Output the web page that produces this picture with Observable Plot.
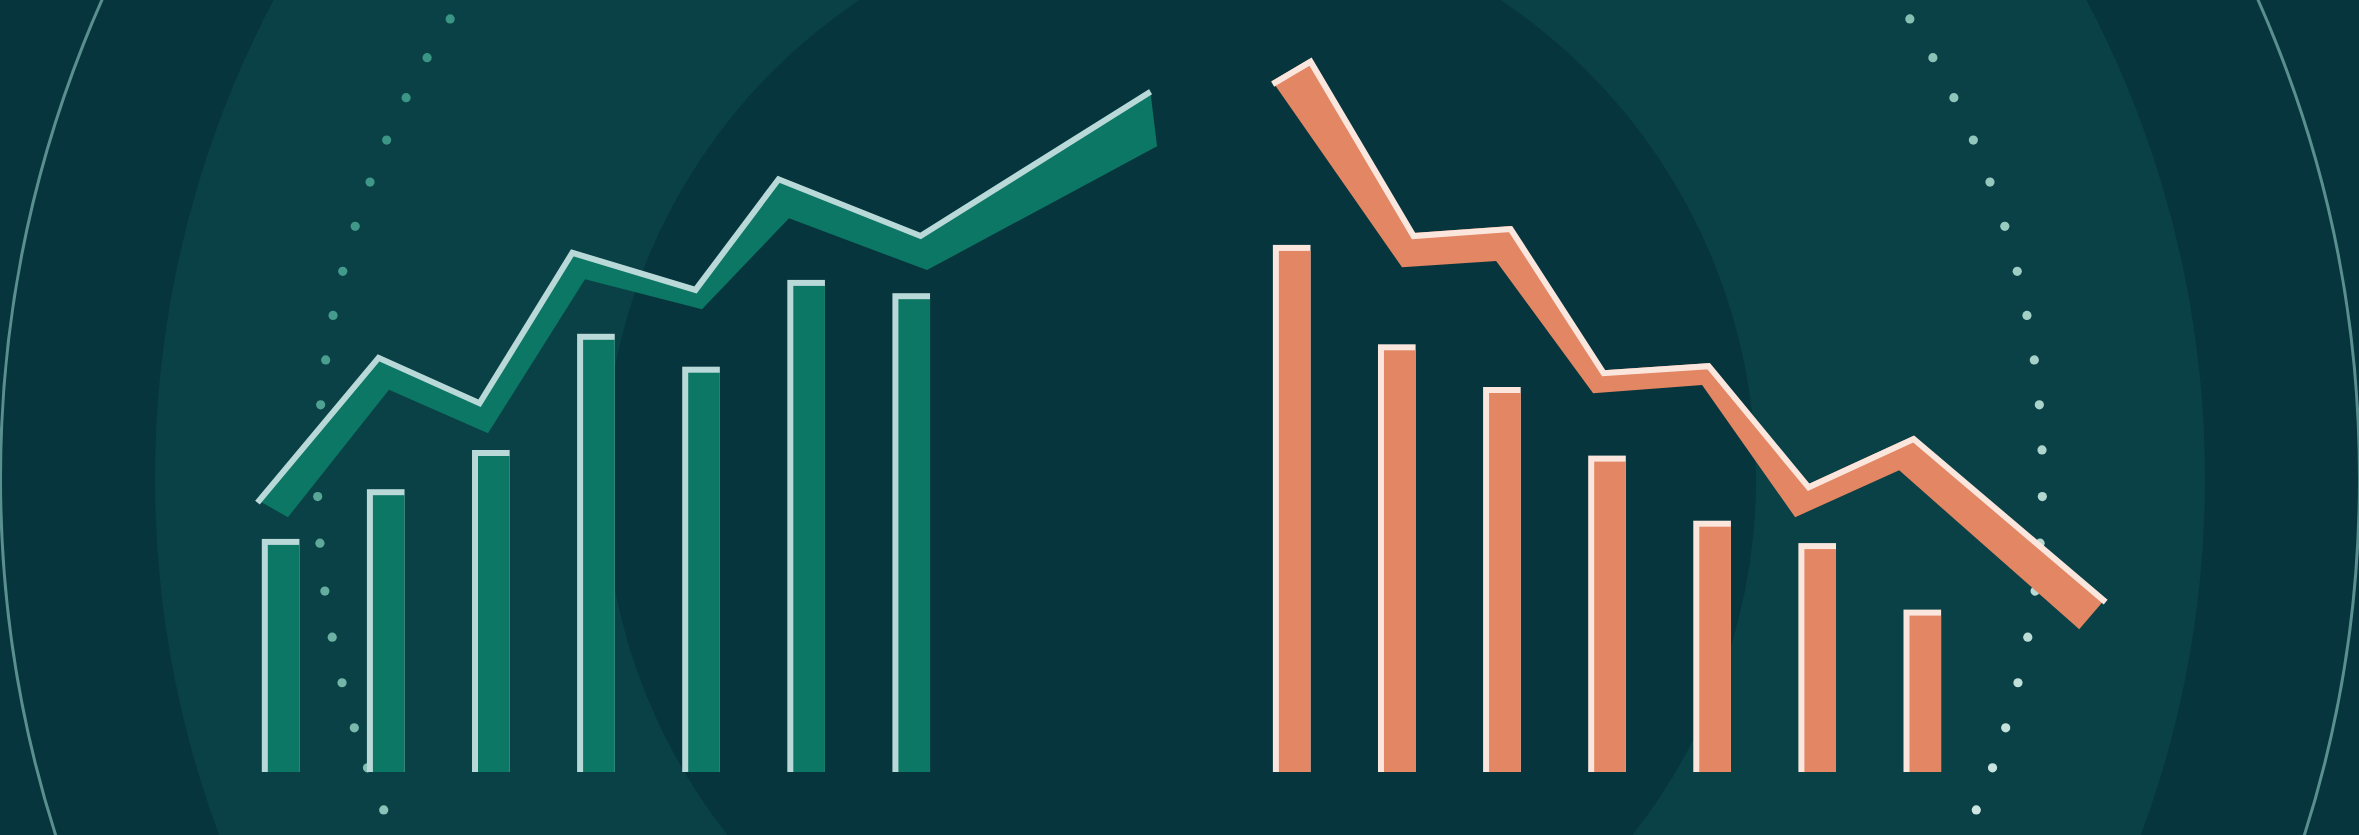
<!DOCTYPE html>
<html>
<head>
<meta charset="utf-8">
<script src="https://cdn.jsdelivr.net/npm/d3@7"></script>
<script src="https://cdn.jsdelivr.net/npm/@observablehq/plot@0.6"></script>
<style>
  html, body { margin: 0; padding: 0; background: #07353d; }
  #chart { width: 2359px; height: 835px; overflow: hidden; position: relative; }
  #chart svg { display: block; }
</style>
</head>
<body>
<div id="chart"></div>
<script>
// ---- data ----
const periods = [1, 2, 3, 4, 5, 6, 7];
const greenBars = [33.3, 40.4, 46.0, 62.6, 57.9, 70.3, 68.4];
const orangeBars = [75.3, 61.1, 55.0, 45.2, 35.9, 32.7, 23.2];
// trend ribbons: upper edge and lower edge of each band
const greenTopX = [0.775, 1.927, 2.888, 3.771, 4.943, 5.733, 7.084, 9.272];
const greenTopY = [38.9, 59.6, 53.1, 74.6, 69.3, 85.1, 77.0, 97.6];
const greenBottomX = [1.070, 2.031, 2.973, 3.896, 5.009, 5.837, 7.150, 9.339];
const greenBottomY = [36.4, 54.6, 48.4, 70.4, 66.1, 79.1, 71.7, 89.4];
const orangeTopX = [1.175, 2.155, 3.078, 3.963, 4.962, 5.914, 6.913, 8.740];
const orangeTopY = [101.9, 77.0, 78.0, 57.4, 58.4, 41.1, 48.0, 24.7];
const orangeBottomX = [0.814, 2.050, 2.945, 3.868, 4.905, 5.790, 6.780, 8.493];
const orangeBottomY = [98.7, 72.1, 73.0, 54.1, 55.3, 36.4, 43.1, 20.4];
// decorative dotted arcs: elevation angle of each dot (degrees)
const dotElevation = [32.2, 29.2, 26.2, 23.1, 20.1, 17.0, 13.9, 10.9, 7.9, 4.9, 1.9, -1.2, -4.3, -7.5, -10.6, -13.7, -16.8, -19.6, -22.6];

// ---- layout ----
const W = 2359, H = 835;
const xDomain = [-1.670, 20.775];
const yDomain = [0, 100], yRange = [772, 72];
const orangeOffset = 9.62;
const barHalf = 0.179;
const xs = d3.scaleLinear().domain(xDomain).range([0, W]);
const ys = d3.scaleLinear().domain(yDomain).range(yRange);
const CX = 1179.5, CY = 478;
const center = {x: xs.invert(CX), y: ys.invert(CY)};
const dotRadius = 862.5;

const C = {
  bg: "#07353d", ring: "#0a4146", thin: "#5a8f90",
  green: "#0c7764", greenLight: "#b9d9d9",
  orange: "#e38663", orangeLight: "#fbe6dd"
};

const greenData = periods.map((p, i) => ({pos: p, value: greenBars[i]}));
const orangeData = periods.map((p, i) => ({pos: p + orangeOffset, value: orangeBars[i]}));

const band = (tx, ty, bx, by, off) => tx.map((x, i) => ({
  x1: bx[i] + off, y1: by[i], x2: x + off, y2: ty[i]
}));
const greenBand = band(greenTopX, greenTopY, greenBottomX, greenBottomY, 0);
const orangeBand = band(orangeTopX, orangeTopY, orangeBottomX, orangeBottomY, orangeOffset);
const greenEdge = greenTopX.map((x, i) => ({x, y: greenTopY[i]}));
const orangeEdge = [{x: orangeBottomX[0] + orangeOffset, y: orangeBottomY[0]}]
  .concat(orangeTopX.map((x, i) => ({x: x + orangeOffset, y: orangeTopY[i]})));

const leftCol = d3.interpolateRgb("#3a9584", "#8cc3b8");
const rightCol = d3.interpolateRgb("#86c0b5", "#cde6e1");
const n = dotElevation.length;
const dots = [];
dotElevation.forEach((e, i) => {
  const a = e * Math.PI / 180;
  const t = i / (n - 1);
  const py = ys.invert(CY - dotRadius * Math.sin(a));
  dots.push({x: xs.invert(CX - dotRadius * Math.cos(a)), y: py, c: leftCol(t * t)});
  dots.push({x: xs.invert(CX + dotRadius * Math.cos(a)), y: py, c: rightCol(t)});
});

const edgeOpts = {strokeLinejoin: "miter", strokeMiterlimit: 10, strokeLinecap: "butt", strokeWidth: 6, dy: 2.5};

const chart = Plot.plot({
  width: W, height: H,
  margin: 0,
  x: {type: "linear", domain: xDomain, range: [0, W], axis: null},
  y: {type: "linear", domain: yDomain, range: yRange, axis: null},
  color: {type: "identity"},
  style: {background: C.bg, overflow: "hidden"},
  marks: [
    // background concentric rings
    Plot.dot([center], {x: "x", y: "y", r: 1025, fill: C.ring, stroke: "none"}),
    Plot.dot([center], {x: "x", y: "y", r: 576, fill: C.bg, stroke: "none"}),
    Plot.dot([center], {x: "x", y: "y", r: 1179.5, fill: "none", stroke: C.thin, strokeWidth: 3}),
    // dotted arcs
    Plot.dot(dots, {x: "x", y: "y", r: 4.6, fill: "c", stroke: "none"}),
    // green bars
    Plot.rect(greenData, {x1: d => d.pos - barHalf, x2: d => d.pos + barHalf, y1: d => 0, y2: "value", fill: C.greenLight}),
    Plot.rect(greenData, {x1: d => d.pos - barHalf, x2: d => d.pos + barHalf, y1: d => 0, y2: "value", fill: C.green, insetLeft: 6, insetTop: 6}),
    // orange bars
    Plot.rect(orangeData, {x1: d => d.pos - barHalf, x2: d => d.pos + barHalf, y1: d => 0, y2: "value", fill: C.orangeLight}),
    Plot.rect(orangeData, {x1: d => d.pos - barHalf, x2: d => d.pos + barHalf, y1: d => 0, y2: "value", fill: C.orange, insetLeft: 6, insetTop: 6}),
    // green trend ribbon
    Plot.area(greenBand, {x1: "x1", y1: "y1", x2: "x2", y2: "y2", fill: C.green, curve: "linear"}),
    Plot.line(greenEdge, {x: "x", y: "y", stroke: C.greenLight, ...edgeOpts}),
    // orange trend ribbon
    Plot.area(orangeBand, {x1: "x1", y1: "y1", x2: "x2", y2: "y2", fill: C.orange, curve: "linear"}),
    Plot.line(orangeEdge, {x: "x", y: "y", stroke: C.orangeLight, ...edgeOpts})
  ]
});
document.getElementById("chart").appendChild(chart);
</script>
</body>
</html>
